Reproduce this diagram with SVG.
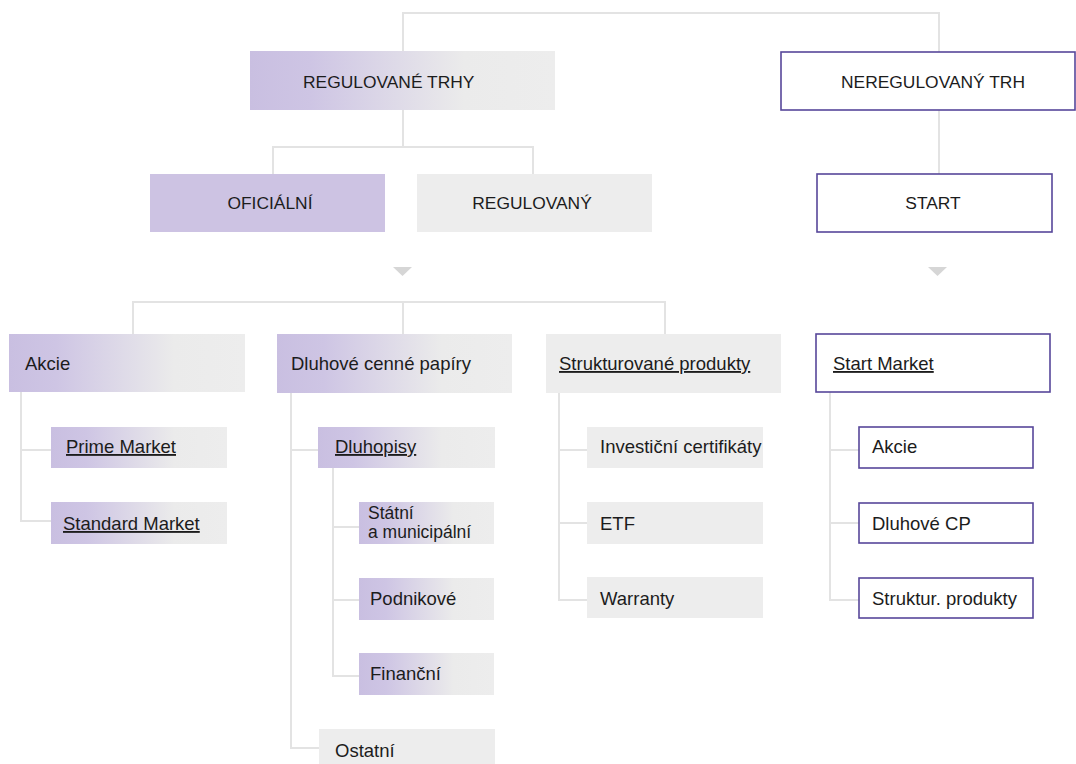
<svg xmlns="http://www.w3.org/2000/svg" width="1076" height="764" viewBox="0 0 1076 764">
  <defs>
    <linearGradient id="fade" x1="0" y1="0" x2="1" y2="0">
      <stop offset="0" stop-color="#c9bfe1"/>
      <stop offset="0.2" stop-color="#cec5e4"/>
      <stop offset="0.7" stop-color="#ebebeb"/>
      <stop offset="1" stop-color="#ededed"/>
    </linearGradient>
    <style>
      .conn { fill: none; stroke: #e3e3e3; stroke-width: 2; }
      .tri { fill: #d6d6d6; }
      .grad { fill: url(#fade); }
      .violet { fill: #cdc3e3; }
      .grey { fill: #ededed; }
      .outline { fill: #ffffff; stroke: #57479a; stroke-width: 1.6; }
      text { font-family: "Liberation Sans", Arial, sans-serif; fill: #1c1c1c; }
      .top { font-size: 17.4px; }
      .lbl { font-size: 18.5px; }
      .sm { font-size: 17.5px; }
      .mid { text-anchor: middle; }
      .ul { text-decoration: underline; }
    </style>
  </defs>
  <rect width="1076" height="764" fill="#ffffff"/>

  <!-- connectors -->
  <g id="connectors">
    <path class="conn" d="M403,52 V13 H939 V52"/>
    <path class="conn" d="M403,110 V147 M273,174 V147 H533 V174"/>
    <path class="conn" d="M939,110 V174"/>
    <path class="conn" d="M133,334 V302 H665 V334 M403,302 V334"/>
    <path class="conn" d="M21,392 V521 H51 M21,450 H51"/>
    <path class="conn" d="M291,393 V748 H319 M291,450 H318"/>
    <path class="conn" d="M333,468 V676 H359 M333,527 H359 M333,600 H359"/>
    <path class="conn" d="M559,393 V600 H587 M559,450 H587 M559,523 H587"/>
    <path class="conn" d="M830,392 V600 H859 M830,450 H859 M830,523 H859"/>
    <polygon class="tri" points="393,267 412,267 402.5,276"/>
    <polygon class="tri" points="928,267 947,267 937.5,276"/>
  </g>

  <!-- top level -->
  <g id="regulovane-trhy">
    <rect class="grad" x="250" y="51" width="305" height="59"/>
    <text class="top" x="303" y="88">REGULOVANÉ TRHY</text>
  </g>
  <g id="neregulovany-trh">
    <rect class="outline" x="781" y="52" width="294" height="58"/>
    <text class="top mid" x="933" y="88">NEREGULOVANÝ TRH</text>
  </g>

  <!-- second level -->
  <g id="oficialni">
    <rect class="violet" x="150" y="174" width="235" height="58"/>
    <text class="top mid" x="270" y="209">OFICIÁLNÍ</text>
  </g>
  <g id="regulovany">
    <rect class="grey" x="417" y="174" width="235" height="58"/>
    <text class="top mid" x="532" y="209">REGULOVANÝ</text>
  </g>
  <g id="start">
    <rect class="outline" x="817" y="174" width="235" height="58"/>
    <text class="top mid" x="933" y="209">START</text>
  </g>

  <!-- product groups -->
  <g id="akcie">
    <rect class="grad" x="9" y="334" width="236" height="58"/>
    <text class="lbl" x="25" y="370">Akcie</text>
  </g>
  <g id="dluhove-cenne-papiry">
    <rect class="grad" x="277" y="334" width="235" height="59"/>
    <text class="lbl" x="291" y="370">Dluhové cenné papíry</text>
  </g>
  <g id="strukturovane-produkty">
    <rect class="grey" x="546" y="334" width="235" height="59"/>
    <text class="lbl ul" x="559" y="370">Strukturované produkty</text>
  </g>
  <g id="start-market">
    <rect class="outline" x="816" y="334" width="234" height="58"/>
    <text class="lbl ul" x="833" y="370">Start Market</text>
  </g>

  <!-- shares -->
  <g id="prime-market">
    <rect class="grad" x="51" y="427" width="176" height="41"/>
    <text class="lbl ul" x="66" y="453">Prime Market</text>
  </g>
  <g id="standard-market">
    <rect class="grad" x="51" y="502" width="176" height="42"/>
    <text class="lbl ul" x="63" y="530">Standard Market</text>
  </g>

  <!-- debt securities -->
  <g id="dluhopisy">
    <rect class="grad" x="318" y="427" width="177" height="41"/>
    <text class="lbl ul" x="335" y="453">Dluhopisy</text>
  </g>
  <g id="statni-municipalni">
    <rect class="grad" x="359" y="502" width="135" height="42"/>
    <text class="sm" x="368" y="519">Státní</text>
    <text class="sm" x="368" y="538">a municipální</text>
  </g>
  <g id="podnikove">
    <rect class="grad" x="359" y="578" width="135" height="42"/>
    <text class="lbl" x="370" y="605">Podnikové</text>
  </g>
  <g id="financni">
    <rect class="grad" x="359" y="653" width="135" height="42"/>
    <text class="lbl" x="370" y="680">Finanční</text>
  </g>
  <g id="ostatni">
    <rect class="grey" x="319" y="729" width="176" height="40"/>
    <text class="lbl" x="335" y="757">Ostatní</text>
  </g>

  <!-- structured products -->
  <g id="investicni-certifikaty">
    <rect class="grey" x="587" y="427" width="176" height="41"/>
    <text class="lbl" x="600" y="453">Investiční certifikáty</text>
  </g>
  <g id="etf">
    <rect class="grey" x="587" y="502" width="176" height="42"/>
    <text class="lbl" x="600" y="530">ETF</text>
  </g>
  <g id="warranty">
    <rect class="grey" x="587" y="577" width="176" height="41"/>
    <text class="lbl" x="600" y="605">Warranty</text>
  </g>

  <!-- start market segments -->
  <g id="start-akcie">
    <rect class="outline" x="859" y="427" width="174" height="41"/>
    <text class="lbl" x="872" y="453">Akcie</text>
  </g>
  <g id="start-dluhove-cp">
    <rect class="outline" x="859" y="503" width="174" height="40"/>
    <text class="lbl" x="872" y="530">Dluhové CP</text>
  </g>
  <g id="start-struktur-produkty">
    <rect class="outline" x="859" y="578" width="174" height="40"/>
    <text class="lbl" x="872" y="605">Struktur. produkty</text>
  </g>
</svg>
